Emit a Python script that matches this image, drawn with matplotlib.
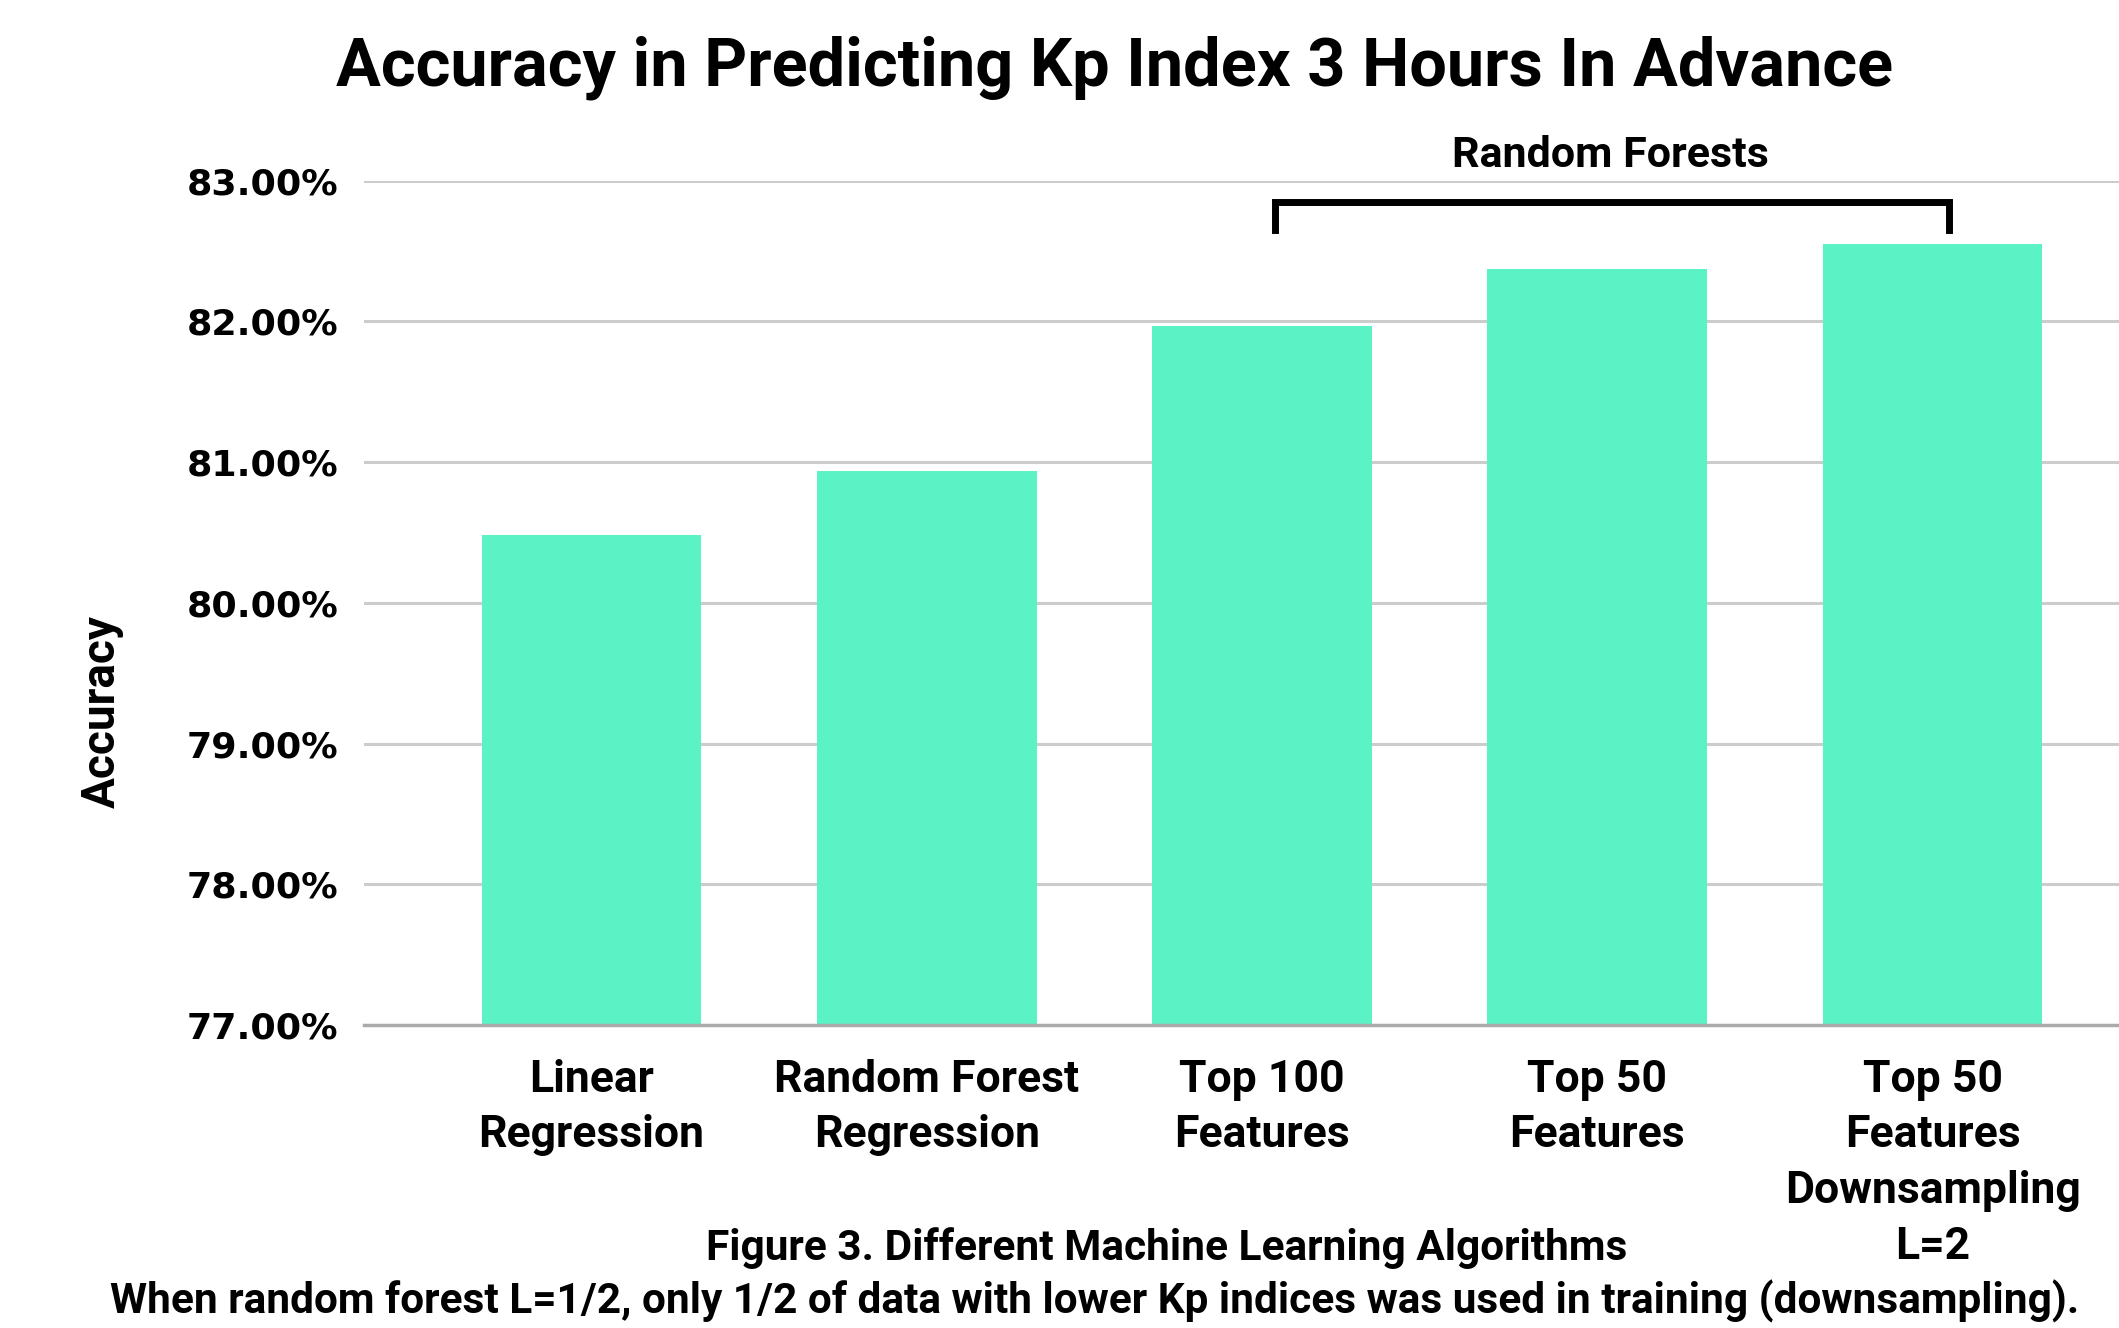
import matplotlib
matplotlib.use("Agg")
import matplotlib.pyplot as plt
from matplotlib.ticker import FuncFormatter

categories = ["Linear\nRegression", "Random Forest\nRegression", "Top 100\nFeatures",
              "Top 50\nFeatures", "Top 50\nFeatures\nDownsampling\nL=2"]
accuracy = [80.48, 80.94, 81.97, 82.37, 82.55]
yticks = [77, 78, 79, 80, 81, 82, 83]

plt.rcParams['font.family'] = ['Roboto', 'DejaVu Sans']

fig = plt.figure(figsize=(21.19, 13.28), dpi=100)
ax = fig.add_axes([0.172, 0.228, 0.828, 0.636])

x = list(range(len(categories)))
ax.bar(x, accuracy, width=0.655, color='#5BF3C6', zorder=3)

ax.set_ylim(77, 83)
ax.set_xlim(-0.677, 4.556)
ax.set_yticks(yticks)
ax.yaxis.set_major_formatter(FuncFormatter(lambda v, p: f"{v:.2f}%"))
ax.set_xticks(x)
ax.set_xticklabels(categories, fontsize=32, fontweight='bold', linespacing=1.42, va='top')
for lbl in ax.get_yticklabels():
    lbl.set_fontfamily('DejaVu Sans')
    lbl.set_fontweight('bold')
    lbl.set_fontsize(26.2)
ax.tick_params(axis='y', length=0, pad=19)
ax.tick_params(axis='x', length=0, pad=24)
ax.grid(axis='y', color='#cccccc', linewidth=2.2, zorder=0)
for s in ['top', 'right', 'left']:
    ax.spines[s].set_visible(False)
ax.spines['bottom'].set_color('#aaaaaa')
ax.spines['bottom'].set_linewidth(2.5)
ax.spines['bottom'].set_zorder(4)

ax.set_ylabel("Accuracy", fontsize=33, fontweight='bold')
ax.yaxis.set_label_coords(-0.137, 0.371)

# bracket for random forests
ax.plot([2.04, 2.04, 4.05, 4.05], [82.65, 82.85, 82.85, 82.65], color='black',
        linewidth=5, clip_on=False, zorder=5, solid_joinstyle='miter')
ax.text(3.04, 83.18, "Random Forests", ha='center', va='center', fontsize=31,
        fontweight='bold')

fig.text(0.526, 0.949, "Accuracy in Predicting Kp Index 3 Hours In Advance",
         ha='center', va='center', fontsize=48, fontweight='bold')
fig.text(0.5504, 0.060, "Figure 3. Different Machine Learning Algorithms",
         ha='center', va='center', fontsize=30.5, fontweight='bold')
fig.text(0.5166, 0.020,
         "When random forest L=1/2, only 1/2 of data with lower Kp indices was used in training (downsampling).",
         ha='center', va='center', fontsize=30.5, fontweight='bold')

fig.savefig("out.png", dpi=100)
